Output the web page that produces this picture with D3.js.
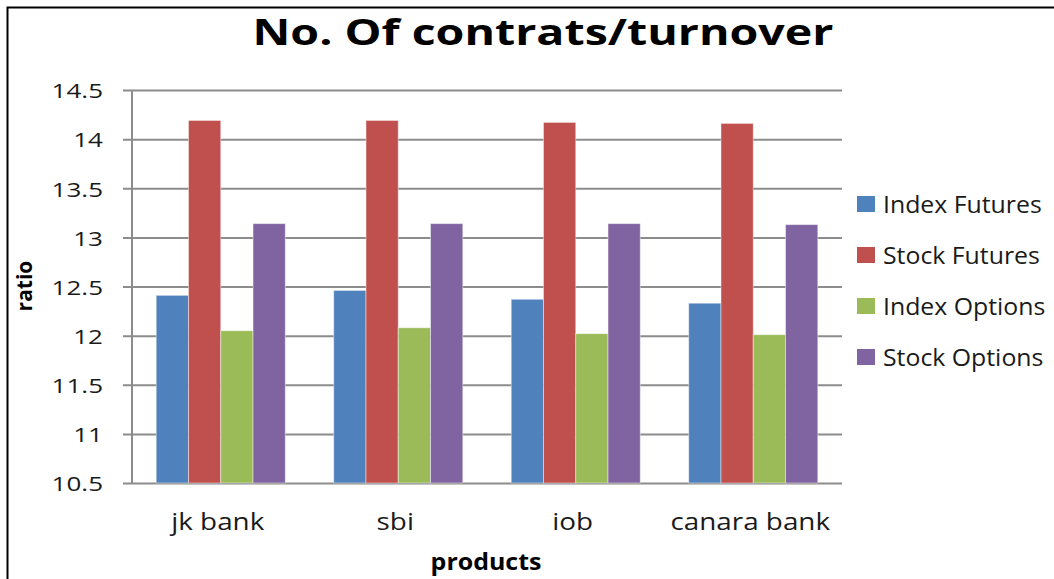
<!DOCTYPE html>
<html>
<head>
<meta charset="utf-8">
<script src="https://cdn.jsdelivr.net/npm/d3@7"></script>
<style>
    body { margin: 0; background: #fff; }
    svg { display: block; }
</style>
</head>
<body>
<svg width="1054" height="579"></svg>
<script>
// chart data
var categories = ["jk bank", "sbi", "iob", "canara bank"];
var seriesNames = ["Index Futures", "Stock Futures", "Index Options", "Stock Options"];
var indexFutures = [12.41, 12.46, 12.37, 12.33];
var stockFutures = [14.19, 14.19, 14.17, 14.16];
var indexOptions = [12.05, 12.08, 12.02, 12.01];
var stockOptions = [13.14, 13.14, 13.14, 13.13];
var yTicks = [10.5, 11, 11.5, 12, 12.5, 13, 13.5, 14, 14.5];

var colors = ["#4F81BD", "#C0504D", "#9BBB59", "#8064A2"];
var allSeries = [indexFutures, stockFutures, indexOptions, stockOptions];

var margin = {top: 90, left: 132, right: 212, bottom: 96};

var svg = d3.select("svg");
var width = +svg.attr("width") - margin.left - margin.right;
var height = +svg.attr("height") - margin.top - margin.bottom;

// outer frame (only left and top edges show in the picture)
svg.append("path")
    .attr("d", "M7.5,579 V7.5 H1054")
    .attr("fill", "none")
    .attr("stroke", "#000")
    .attr("stroke-width", 2);

var g = svg.append("g")
    .attr("transform", "translate(" + margin.left + "," + margin.top + ")");

var x0 = d3.scaleBand().domain(categories).range([0, width]).paddingInner(0).paddingOuter(0);
// excel gap width 150% -> 0.75 bar on each side of the group
var x1 = d3.scaleBand().domain(d3.range(4)).range([x0.bandwidth() * 0.75 / 5.5, x0.bandwidth() * (1 - 0.75 / 5.5)]);
var y = d3.scaleLinear().domain([10.5, 14.5]).range([height, 0]);

// gridlines + y axis
var yAxis = g.append("g")
    .call(d3.axisLeft(y).tickValues(yTicks).tickSize(-width).tickFormat(d3.format("")))
    .call(function(a) { a.select(".domain").remove(); });
yAxis.selectAll(".tick line")
    .attr("x1", -9)
    .attr("stroke", "#8c8c8c")
    .attr("stroke-width", 2);
yAxis.selectAll(".tick text")
    .attr("x", 0)
    .attr("dy", null)
    .attr("dominant-baseline", "central")
    .attr("transform", "translate(-29,0) scale(1.3,1)")
    .style("font-family", "'Open Sans', sans-serif")
    .style("font-size", "20px")
    .style("fill", "#1a1a1a");

// bars
var groups = g.selectAll(".grp")
    .data(categories)
    .enter().append("g")
    .attr("transform", function(d) { return "translate(" + x0(d) + ",0)"; });

groups.selectAll("rect")
    .data(function(d, i) { return allSeries.map(function(s, k) { return {k: k, v: s[i]}; }); })
    .enter().append("rect")
    .attr("x", function(d) { return x1(d.k); })
    .attr("width", x1.bandwidth())
    .attr("y", function(d) { return y(d.v); })
    .attr("height", function(d) { return height - y(d.v); })
    .attr("fill", function(d) { return colors[d.k]; })
    .attr("stroke", "rgba(255,255,255,0.45)")
    .attr("stroke-width", 1);

// vertical axis line
g.append("line")
    .attr("x1", 0).attr("x2", 0)
    .attr("y1", 0).attr("y2", height)
    .attr("stroke", "#8c8c8c")
    .attr("stroke-width", 2);

// category labels
g.selectAll(".cat")
    .data(categories)
    .enter().append("text")
    .attr("text-anchor", "middle")
    .attr("transform", function(d) {
        return "translate(" + (x0(d) + x0.bandwidth() / 2 - 3) + "," + (height + 47) + ") scale(1.16,1)";
    })
    .style("font-family", "'Open Sans', sans-serif")
    .style("font-size", "24px")
    .style("fill", "#1a1a1a")
    .text(function(d) { return d; });

// title
svg.append("text")
    .attr("text-anchor", "middle")
    .attr("transform", "translate(543,45) scale(1.33,1)")
    .style("font-family", "'Open Sans', sans-serif")
    .style("font-weight", "bold")
    .style("font-size", "35px")
    .style("fill", "#000")
    .text("No. Of contrats/turnover");

// axis titles
svg.append("text")
    .attr("text-anchor", "middle")
    .attr("transform", "translate(486,570) scale(1.04,1)")
    .style("font-family", "'Open Sans', sans-serif")
    .style("font-weight", "bold")
    .style("font-size", "24px")
    .text("products");

svg.append("text")
    .attr("text-anchor", "middle")
    .attr("transform", "translate(32,286) rotate(-90)")
    .style("font-family", "'Open Sans', sans-serif")
    .style("font-weight", "bold")
    .style("font-size", "21px")
    .text("ratio");

// legend
var legend = svg.append("g")
    .attr("transform", "translate(857,204)");

var items = legend.selectAll(".item")
    .data(seriesNames)
    .enter().append("g")
    .attr("transform", function(d, i) { return "translate(0," + (i * 51) + ")"; });

items.append("rect")
    .attr("x", 0).attr("y", -8)
    .attr("width", 18).attr("height", 16)
    .attr("fill", function(d, i) { return colors[i]; });

// legend text sits right at the edge of the picture, squeezed a bit so it fits
items.append("text")
    .attr("transform", "translate(26,0) scale(1.08,1)")
    .attr("dominant-baseline", "central")
    .style("font-family", "'Open Sans', sans-serif")
    .style("font-size", "23px")
    .style("fill", "#1a1a1a")
    .text(function(d) { return d; });
</script>
</body>
</html>
